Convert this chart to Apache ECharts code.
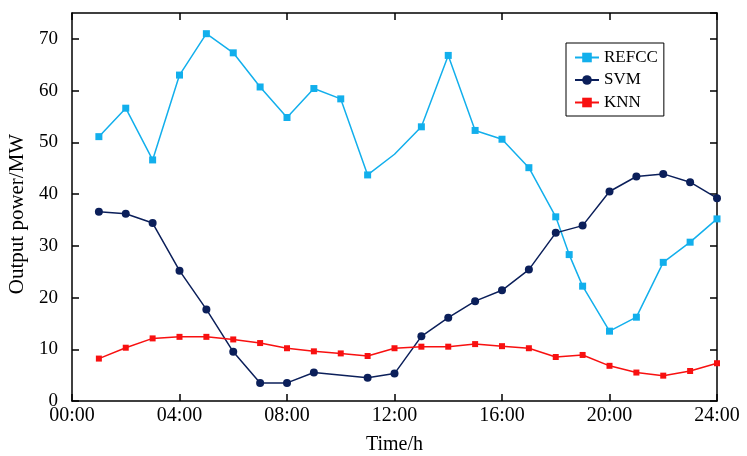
<!DOCTYPE html>
<html>
<head>
<meta charset="utf-8">
<script src="https://cdn.jsdelivr.net/npm/echarts@6/dist/echarts.min.js"></script>
<style>html,body{margin:0;padding:0;background:#fff;}#c{width:747px;height:456px;}</style>
</head>
<body>
<div id="c"></div>
<script>
// ---- data ----
const xTicks = [0, 4, 8, 12, 16, 20, 24];
const yTicks = [0, 10, 20, 30, 40, 50, 60, 70];
const refccHours = [1,2,3,4,5,6,7,8,9,10,11,12,13,14,15,16,17,18,18.5,19,20,21,22,23,24];
const refccValues = [51.1,56.6,46.6,63.0,71.0,67.3,60.7,54.8,60.4,58.4,43.7,47.7,53.0,66.8,52.3,50.6,45.1,35.6,28.3,22.2,13.5,16.2,26.8,30.7,35.2];
const refccHiddenMarkers = [12];
const svmHours = [1,2,3,4,5,6,7,8,9,11,12,13,14,15,16,17,18,19,20,21,22,23,24];
const svmValues = [36.6,36.2,34.4,25.2,17.7,9.5,3.5,3.5,5.5,4.5,5.3,12.5,16.1,19.3,21.4,25.4,32.5,33.9,40.5,43.4,43.9,42.3,39.2];
const knnHours = [1,2,3,4,5,6,7,8,9,10,11,12,13,14,15,16,17,18,19,20,21,22,23,24];
const knnValues = [8.2,10.3,12.1,12.4,12.4,11.9,11.2,10.2,9.6,9.2,8.7,10.2,10.5,10.5,11.0,10.6,10.2,8.5,8.9,6.8,5.5,4.9,5.8,7.3];

const FONT = "'Liberation Serif','Times New Roman',serif";
function pairs(hs, vs, hidden) {
  return hs.map((h, i) => {
    if (hidden && hidden.indexOf(h) >= 0) return { value: [h, vs[i]], symbol: 'none' };
    return [h, vs[i]];
  });
}
function fmtTime(v) { return (v < 10 ? '0' : '') + v + ':00'; }

const chart = echarts.init(document.getElementById('c'), null, { renderer: 'canvas' });
const axLine = { show: true, onZero: false, lineStyle: { color: '#000', width: 1.5 } };
const axTick = { show: true, inside: true, length: 7, lineStyle: { color: '#000', width: 1.5 } };
chart.setOption({
  animation: false,
  backgroundColor: '#fff',
  grid: { left: 72, right: 30, top: 13, bottom: 55, outerBoundsMode: 'none', containLabel: false },
  legend: {
    orient: 'vertical', left: 566, top: 43,
    padding: [6, 6, 5, 8],
    borderColor: '#000', borderWidth: 1,
    itemWidth: 24, itemHeight: 12, itemGap: 5.5,
    textStyle: { fontFamily: FONT, fontSize: 17, color: '#000' },
    data: ['REFCC', 'SVM', 'KNN']
  },
  xAxis: [{
    type: 'value', min: xTicks[0], max: xTicks[xTicks.length - 1], interval: 4,
    name: 'Time/h', nameLocation: 'middle', nameGap: 34,
    nameTextStyle: { fontFamily: FONT, fontSize: 20, color: '#000' },
    axisLine: axLine, axisTick: axTick, splitLine: { show: false },
    axisLabel: { fontFamily: FONT, fontSize: 20, color: '#000', margin: 5, formatter: fmtTime }
  }, {
    type: 'value', position: 'top', min: xTicks[0], max: xTicks[xTicks.length - 1], interval: 4,
    axisLine: axLine, axisTick: axTick, axisLabel: { show: false }, splitLine: { show: false }
  }],
  yAxis: [{
    type: 'value', min: yTicks[0], max: 75, interval: 10,
    name: 'Output power/MW', nameLocation: 'middle', nameGap: 38,
    nameTextStyle: { fontFamily: FONT, fontSize: 21, color: '#000', padding: [0, 14, 0, 0] },
    axisLine: axLine, axisTick: axTick, splitLine: { show: false },
    axisLabel: { fontFamily: FONT, fontSize: 19, color: '#000', margin: 14, showMaxLabel: false }
  }, {
    type: 'value', position: 'right', min: yTicks[0], max: 75, interval: 10,
    axisLine: axLine, axisTick: axTick, axisLabel: { show: false }, splitLine: { show: false }
  }],
  series: [{
    name: 'REFCC', type: 'line', data: pairs(refccHours, refccValues, refccHiddenMarkers),
    symbol: 'rect', symbolSize: 7, showAllSymbol: true,
    itemStyle: { color: '#12AFEC' }, lineStyle: { color: '#12AFEC', width: 1.5 }
  }, {
    name: 'SVM', type: 'line', data: pairs(svmHours, svmValues),
    symbol: 'circle', symbolSize: 8, showAllSymbol: true,
    itemStyle: { color: '#0B1F5A' }, lineStyle: { color: '#0B1F5A', width: 1.5 }
  }, {
    name: 'KNN', type: 'line', data: pairs(knnHours, knnValues),
    symbol: 'rect', symbolSize: 6, showAllSymbol: true,
    itemStyle: { color: '#F81010' }, lineStyle: { color: '#F81010', width: 1.5 }
  }]
});
</script>
</body>
</html>
